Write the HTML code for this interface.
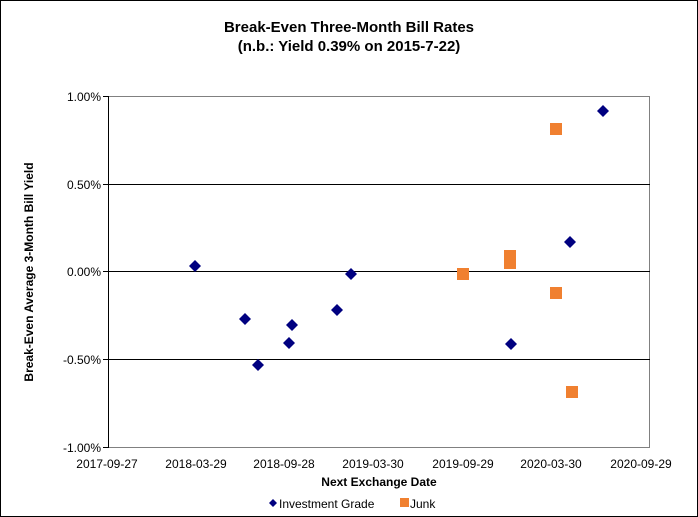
<!DOCTYPE html><html><head><style>body{margin:0}svg{display:block}text{font-family:"Liberation Sans",Arial,sans-serif}</style></head><body>
<svg width="698" height="517" xmlns="http://www.w3.org/2000/svg">
<rect x="0.5" y="0.5" width="697" height="516" fill="#fff" stroke="#000"/>
<text x="349" y="32" text-anchor="middle" font-size="15" font-weight="bold">Break-Even Three-Month Bill Rates</text>
<text x="349" y="51" text-anchor="middle" font-size="15" font-weight="bold">(n.b.: Yield 0.39% on 2015-7-22)</text>
<rect x="108.5" y="96.5" width="541" height="351" fill="none" stroke="#808080"/>
<g stroke="#000" stroke-width="1">
<line x1="108" y1="184.5" x2="650" y2="184.5"/><line x1="108" y1="271.5" x2="650" y2="271.5"/><line x1="108" y1="359.5" x2="650" y2="359.5"/>
<line x1="108.5" y1="96" x2="108.5" y2="448"/>
<line x1="103" y1="96.5" x2="108" y2="96.5"/><line x1="103" y1="184.5" x2="108" y2="184.5"/><line x1="103" y1="271.5" x2="108" y2="271.5"/><line x1="103" y1="359.5" x2="108" y2="359.5"/><line x1="103" y1="447.5" x2="108" y2="447.5"/>
</g>
<g font-size="12" text-anchor="end">
<text x="101" y="101">1.00%</text><text x="101" y="189">0.50%</text><text x="101" y="276">0.00%</text><text x="101" y="364">-0.50%</text><text x="101" y="452">-1.00%</text>
</g>
<g font-size="12" text-anchor="middle">
<text x="107" y="468">2017-09-27</text><text x="196" y="468">2018-03-29</text><text x="284" y="468">2018-09-28</text><text x="373" y="468">2019-03-30</text><text x="463" y="468">2019-09-29</text><text x="551" y="468">2020-03-30</text><text x="641" y="468">2020-09-29</text>
</g>
<text x="379" y="486" text-anchor="middle" font-size="12" font-weight="bold">Next Exchange Date</text>
<text transform="translate(33,272) rotate(-90)" text-anchor="middle" font-size="12" font-weight="bold">Break-Even Average 3-Month Bill Yield</text>
<g fill="#f08030">
<rect x="457" y="268" width="12" height="12"/><rect x="504" y="250" width="12" height="12"/><rect x="504" y="257" width="12" height="12"/><rect x="550" y="123" width="12" height="12"/><rect x="550" y="287" width="12" height="12"/><rect x="566" y="386" width="12" height="12"/>
</g>
<g fill="#000080">
<path d="M195 260l6 6-6 6-6-6z"/><path d="M245 313l6 6-6 6-6-6z"/><path d="M258 359l6 6-6 6-6-6z"/><path d="M289 337l6 6-6 6-6-6z"/><path d="M292 319l6 6-6 6-6-6z"/><path d="M337 304l6 6-6 6-6-6z"/><path d="M351 268l6 6-6 6-6-6z"/><path d="M511 338l6 6-6 6-6-6z"/><path d="M570 236l6 6-6 6-6-6z"/><path d="M603 105l6 6-6 6-6-6z"/>
<path d="M273 499l4 4-4 4-4-4z"/>
</g>
<text x="279" y="508" font-size="12">Investment Grade</text>
<rect x="400" y="498" width="9" height="9" fill="#f08030"/>
<text x="410" y="508" font-size="12">Junk</text>
</svg></body></html>
